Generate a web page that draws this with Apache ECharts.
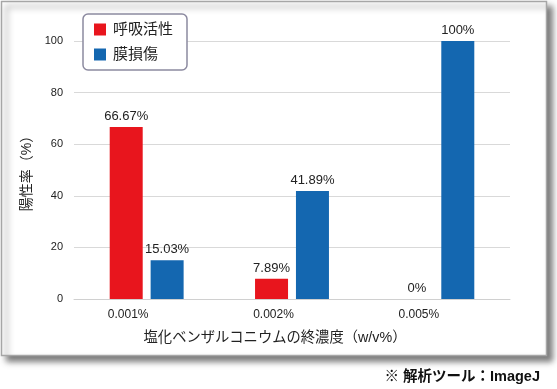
<!DOCTYPE html>
<html>
<head>
<meta charset="utf-8">
<script src="https://cdn.jsdelivr.net/npm/echarts@6/dist/echarts.min.js"></script>
<style>
html,body{margin:0;padding:0;background:#fff;}
#c{width:557px;height:389px;}
</style>
</head>
<body>
<div id="c"></div>
<script>
const categories = ['0.001%', '0.002%', '0.005%'];
const seriesNames = ['呼吸活性', '膜損傷'];
const respiration = [66.67, 7.89, 0];
const membrane = [15.03, 41.89, 100];
const yTicks = {min: 0, max: 100, interval: 20};
const yAxisTitle = '陽性率（%）';
const xAxisTitle = '塩化ベンザルコニウムの終濃度（w/v%）';
const footnote = '※ 解析ツール：ImageJ';

const latin = '"Liberation Sans", Arial, "Noto Sans CJK JP", sans-serif';
const cjk = '"Liberation Sans", "Noto Sans CJK JP", sans-serif';

const chart = echarts.init(document.getElementById('c'), null, {renderer: 'canvas'});
const labelFmt = p => p.value + '%';
chart.setOption({
  animation: false,
  backgroundColor: '#fff',
  graphic: [
    {
      type: 'rect', z: -10, silent: true,
      shape: {x: 1.5, y: 1.5, width: 545, height: 354},
      style: {fill: '#fff', stroke: '#a6a6a6', lineWidth: 1.5,
        shadowBlur: 6, shadowOffsetX: 5, shadowOffsetY: 5, shadowColor: 'rgba(0,0,0,0.5)'}
    },
    {
      type: 'text', right: 17, top: 370,
      style: {text: footnote, font: 'bold 14.5px ' + cjk, fill: '#111'}
    }
  ],
  legend: {
    orient: 'vertical', left: 83, top: 14,
    padding: [8, 14, 8, 11],
    itemWidth: 12, itemHeight: 12, itemGap: 10,
    icon: 'rect',
    borderColor: '#8c8aa0', borderWidth: 1.5, borderRadius: 5,
    backgroundColor: '#fff',
    data: seriesNames,
    textStyle: {fontSize: 15, lineHeight: 15, color: '#222', fontFamily: cjk, padding: [0, 0, 0, 2]}
  },
  grid: {left: 74, right: 47, top: 41, bottom: 90, containLabel: false},
  xAxis: {
    type: 'category', data: categories,
    axisLine: {show: true, lineStyle: {color: '#d0d0d0', width: 1}},
    axisTick: {show: false},
    axisLabel: {fontSize: 12, color: '#222', fontFamily: latin, margin: 10, padding: [0, 37, 0, 0]},
    name: xAxisTitle, nameLocation: 'middle', nameGap: 32,
    nameTextStyle: {fontSize: 14.3, color: '#222', fontFamily: cjk, padding: [0, 34, 0, 0]}
  },
  yAxis: {
    type: 'value', min: yTicks.min, max: yTicks.max, interval: yTicks.interval,
    axisLine: {show: false}, axisTick: {show: false},
    splitLine: {lineStyle: {color: '#d9d9d9', width: 1}},
    axisLabel: {fontSize: 11, color: '#222', fontFamily: latin, margin: 11},
    name: yAxisTitle, nameLocation: 'middle', nameGap: 32, nameRotate: 90,
    nameTextStyle: {fontSize: 14, color: '#222', fontFamily: cjk}
  },
  series: [
    {
      name: seriesNames[0], type: 'bar', data: respiration,
      barWidth: 33, barGap: '24%',
      itemStyle: {color: '#e8151d'},
      label: {show: true, position: 'top', distance: 4, formatter: labelFmt, fontSize: 13, color: '#222', fontFamily: latin}
    },
    {
      name: seriesNames[1], type: 'bar', data: membrane,
      barWidth: 33, barGap: '24%',
      itemStyle: {color: '#1467b0'},
      label: {show: true, position: 'top', distance: 4, formatter: labelFmt, fontSize: 13, color: '#222', fontFamily: latin}
    }
  ]
});
</script>
</body>
</html>
